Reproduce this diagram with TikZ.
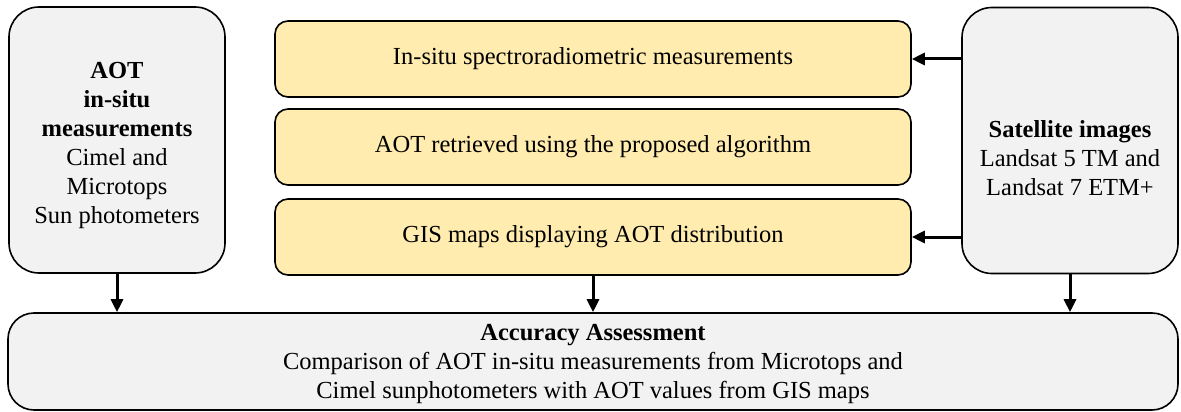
\documentclass[tikz,border=0pt]{standalone}
\usepackage{fontspec}
\setmainfont{Liberation Serif}
\usetikzlibrary{arrows.meta}
\definecolor{boxgray}{RGB}{242,242,242}
\definecolor{boxyellow}{RGB}{255,236,174}
\tikzset{
  sidebox/.style={draw=black, line width=1.6pt, fill=boxgray, rounded corners=30pt,
    minimum width=216pt, minimum height=266pt, inner sep=0pt},
  stepbox/.style={draw=black, line width=1.6pt, fill=boxyellow, rounded corners=13pt,
    minimum width=636pt, minimum height=76pt, inner sep=0pt},
  basebox/.style={draw=black, line width=1.6pt, fill=boxgray, rounded corners=26pt,
    minimum width=1170pt, minimum height=97pt, inner sep=0pt},
  txt/.style={align=center, inner sep=0pt, font=\fontsize{24.5}{29}\selectfont},
  flow/.style={line width=3pt, -{Triangle[length=13pt,width=12pt]}}
}
\begin{document}
\begin{tikzpicture}[x=1pt, y=-1pt]
  \useasboundingbox (0,0) rectangle (1181,412);

  % side boxes
  \node[sidebox] (aot) at (117,140) {};
  \node[txt] (aottxt) at (117,145) {\textbf{AOT}\\\textbf{in-situ}\\\textbf{measurements}\\Cimel and\\Microtops\\Sun photometers};

  \node[sidebox] (sat) at (1070,140.5) {};
  \node[txt] (sattxt) at (1070,158) {\textbf{Satellite images}\\Landsat 5 TM and\\ Landsat 7 ETM+};

  % processing steps
  \node[stepbox, txt] (spec) at (593,59) {In-situ spectroradiometric measurements};
  \node[stepbox, txt] (alg) at (593,147) {AOT retrieved using the proposed algorithm};
  \node[stepbox, txt] (gis) at (593,237) {GIS maps displaying AOT distribution};

  % assessment box
  \node[basebox] (acc) at (593,361.5) {};
  \node[txt] (acctxt) at (593,364) {\textbf{Accuracy Assessment}\\Comparison of AOT in-situ measurements from Microtops and\\Cimel sunphotometers with AOT values from GIS maps};

  % connectors
  \draw[flow] (sat.west |- spec) -- (spec.east);
  \draw[flow] (sat.west |- gis) -- (gis.east);
  \draw[flow] (aot.south) -- (aot.south |- acc.north);
  \draw[flow] (gis.south) -- (gis.south |- acc.north);
  \draw[flow] (sat.south) -- (sat.south |- acc.north);
\end{tikzpicture}
\end{document}
